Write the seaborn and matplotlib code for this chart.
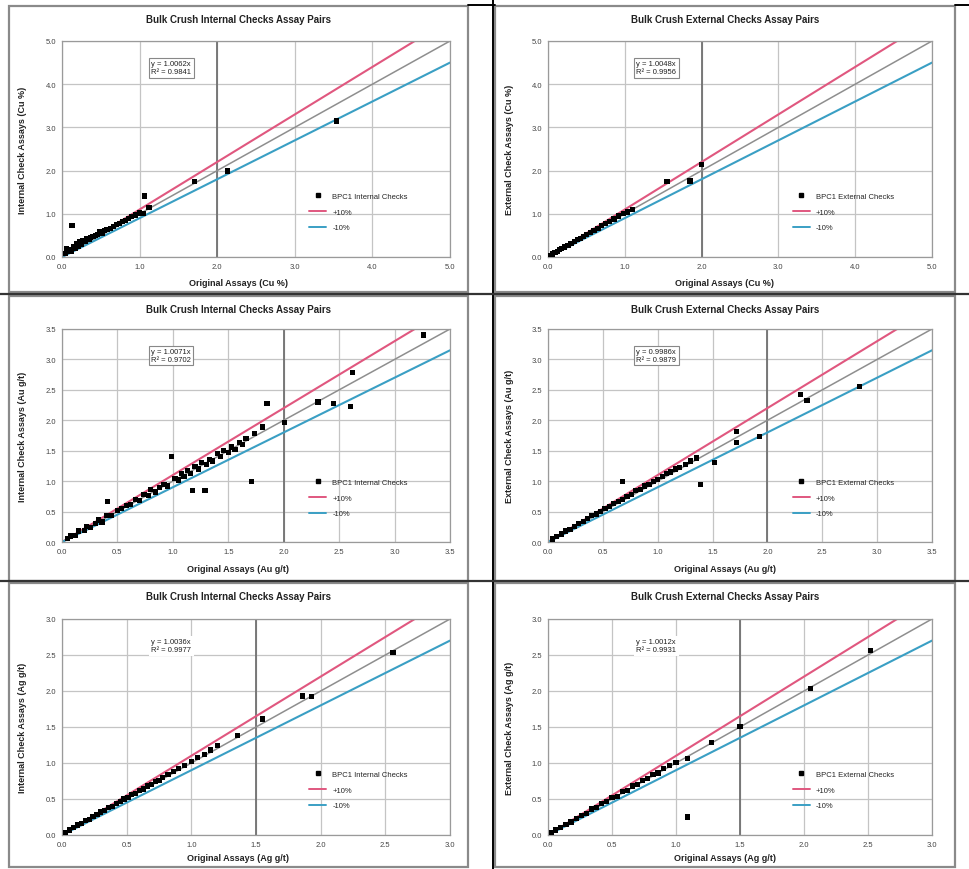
import matplotlib
matplotlib.use('Agg')
import matplotlib.pyplot as plt
import matplotlib.ticker as ticker
from matplotlib.patches import Rectangle
from matplotlib.lines import Line2D
import numpy as np
import pandas as pd
import seaborn as sns

# ---- data (approximate) ----
cu_int_orig = [0.04, 0.06, 0.08, 0.1, 0.12, 0.13, 0.15, 0.17, 0.19, 0.21, 0.23, 0.25, 0.27, 0.3, 0.32,
               0.35, 0.37, 0.4, 0.43, 0.46, 0.49, 0.52, 0.55, 0.58, 0.62, 0.66, 0.7, 0.74, 0.78, 0.82,
               0.86, 0.9, 0.95, 1.0, 1.05, 1.06, 1.12, 1.71, 2.13, 3.54]
cu_int_check = [0.08, 0.2, 0.12, 0.18, 0.14, 0.72, 0.25, 0.2, 0.3, 0.24, 0.36, 0.3, 0.38, 0.35, 0.42,
                0.4, 0.46, 0.48, 0.5, 0.52, 0.58, 0.55, 0.62, 0.64, 0.66, 0.7, 0.75, 0.78, 0.82, 0.84,
                0.9, 0.93, 0.97, 1.02, 1.0, 1.41, 1.14, 1.74, 1.99, 3.15]

cu_ext_orig = [0.03, 0.06, 0.09, 0.12, 0.15, 0.18, 0.22, 0.26, 0.3, 0.34, 0.38, 0.42, 0.46, 0.5,
               0.55, 0.6, 0.65, 0.7, 0.75, 0.8, 0.86, 0.92, 0.98, 1.04, 1.1, 1.55, 1.85, 2.0]
cu_ext_check = [0.04, 0.07, 0.1, 0.13, 0.17, 0.2, 0.23, 0.27, 0.32, 0.35, 0.4, 0.43, 0.48, 0.52,
                0.56, 0.62, 0.66, 0.72, 0.77, 0.82, 0.88, 0.95, 1.0, 1.04, 1.1, 1.74, 1.76, 2.15]

au_int_orig = [0.05, 0.08, 0.12, 0.15, 0.2, 0.22, 0.26, 0.3, 0.33, 0.36, 0.4, 0.41, 0.45, 0.5, 0.54,
               0.58, 0.62, 0.66, 0.7, 0.74, 0.78, 0.8, 0.84, 0.88, 0.92, 0.95, 0.99, 1.02, 1.05, 1.08,
               1.1, 1.13, 1.16, 1.18, 1.2, 1.23, 1.26, 1.29, 1.3, 1.33, 1.36, 1.4, 1.43, 1.46, 1.5,
               1.53, 1.56, 1.6, 1.63, 1.66, 1.71, 1.74, 1.81, 1.85, 2.01, 2.31, 2.45, 2.6, 2.62, 3.26]
au_int_check = [0.06, 0.1, 0.11, 0.18, 0.19, 0.25, 0.24, 0.31, 0.36, 0.33, 0.43, 0.67, 0.44, 0.52, 0.55,
                0.6, 0.61, 0.7, 0.68, 0.78, 0.76, 0.86, 0.82, 0.9, 0.95, 0.92, 1.41, 1.05, 1.02, 1.12,
                1.08, 1.17, 1.12, 0.84, 1.24, 1.2, 1.3, 0.84, 1.28, 1.36, 1.33, 1.45, 1.4, 1.5, 1.47,
                1.56, 1.52, 1.64, 1.6, 1.7, 0.99, 1.78, 1.89, 2.27, 1.97, 2.3, 2.27, 2.22, 2.79, 3.4]

au_ext_orig = [0.04, 0.08, 0.12, 0.16, 0.2, 0.24, 0.28, 0.32, 0.36, 0.4, 0.44, 0.48, 0.52, 0.56,
               0.6, 0.64, 0.68, 0.68, 0.72, 0.76, 0.8, 0.84, 0.88, 0.92, 0.96, 1.0, 1.04, 1.08, 1.12,
               1.16, 1.2, 1.25, 1.3, 1.35, 1.39, 1.52, 1.72, 1.72, 1.93, 2.3, 2.36, 2.84]
au_ext_check = [0.05, 0.09, 0.13, 0.18, 0.21, 0.26, 0.3, 0.34, 0.38, 0.43, 0.46, 0.5, 0.55, 0.58,
                0.63, 0.66, 0.7, 1.0, 0.75, 0.78, 0.84, 0.86, 0.92, 0.95, 1.0, 1.03, 1.08, 1.12, 1.15,
                1.2, 1.22, 1.28, 1.33, 1.38, 0.95, 1.31, 1.81, 1.64, 1.74, 2.43, 2.32, 2.56]

ag_int_orig = [0.03, 0.06, 0.09, 0.12, 0.15, 0.18, 0.21, 0.24, 0.27, 0.3, 0.33, 0.36, 0.39, 0.42,
               0.45, 0.48, 0.51, 0.54, 0.57, 0.6, 0.63, 0.66, 0.69, 0.72, 0.75, 0.78, 0.82, 0.86,
               0.9, 0.95, 1.0, 1.05, 1.1, 1.15, 1.2, 1.36, 1.55, 1.86, 1.93, 2.56]
ag_int_check = [0.04, 0.07, 0.1, 0.14, 0.16, 0.2, 0.22, 0.26, 0.28, 0.32, 0.34, 0.38, 0.4, 0.44,
                0.46, 0.5, 0.52, 0.56, 0.58, 0.62, 0.64, 0.68, 0.7, 0.74, 0.76, 0.8, 0.84, 0.88,
                0.92, 0.97, 1.02, 1.08, 1.12, 1.18, 1.24, 1.38, 1.61, 1.93, 1.92, 2.54]

ag_ext_orig = [0.03, 0.06, 0.1, 0.14, 0.18, 0.22, 0.26, 0.3, 0.34, 0.38, 0.42, 0.46, 0.5, 0.54,
               0.58, 0.62, 0.66, 0.7, 0.74, 0.78, 0.82, 0.86, 0.9, 0.95, 1.0, 1.09, 1.09, 1.28,
               1.5, 2.05, 2.52]
ag_ext_check = [0.04, 0.07, 0.1, 0.15, 0.18, 0.23, 0.27, 0.3, 0.36, 0.38, 0.44, 0.46, 0.52, 0.54,
                0.6, 0.62, 0.68, 0.7, 0.76, 0.78, 0.84, 0.86, 0.92, 0.96, 1.01, 1.06, 0.25, 1.29,
                1.51, 2.03, 2.56]

titles = ['Bulk Crush Internal Checks Assay Pairs', 'Bulk Crush External Checks Assay Pairs']
x_labels = ['Original Assays (Cu %)', 'Original Assays (Au g/t)', 'Original Assays (Ag g/t)']
y_labels = [['Internal Check Assays (Cu %)', 'External Check Assays (Cu %)'],
            ['Internal Check Assays (Au g/t)', 'External Check Assays (Au g/t)'],
            ['Internal Check Assays (Ag g/t)', 'External Check Assays (Ag g/t)']]
legend_labels = [['BPC1 Internal Checks', '+10%', '-10%'], ['BPC1 External Checks', '+10%', '-10%']]
fit_text = [['y = 1.0062x\nR² = 0.9841', 'y = 1.0048x\nR² = 0.9956'],
            ['y = 1.0071x\nR² = 0.9702', 'y = 0.9986x\nR² = 0.9879'],
            ['y = 1.0036x\nR² = 0.9977', 'y = 1.0012x\nR² = 0.9931']]
axis_max = [5.0, 3.5, 3.0]
tick_step = [1.0, 0.5, 0.5]
cutoff = [2.0, 2.0, 1.5]

panel_data = [[(cu_int_orig, cu_int_check), (cu_ext_orig, cu_ext_check)],
              [(au_int_orig, au_int_check), (au_ext_orig, au_ext_check)],
              [(ag_int_orig, ag_int_check), (ag_ext_orig, ag_ext_check)]]

# ---- layout in pixels ----
W, H = 970, 870
chart_x = [(9, 468), (495, 955)]
plot_x = [(62, 450), (548, 932)]
chart_y = [(7, 293), (297, 582), (584, 868)]
plot_y = [(42, 258), (330, 543), (620, 836)]
title_y = [20, 310, 597]
xlab_y = [284, 570, 859]

plus_color = '#e0577f'
minus_color = '#3a9fc4'
one_color = '#8e8e8e'

sns.set_style('white')
plt.rcParams['font.family'] = ['Liberation Sans', 'DejaVu Sans']

fig = plt.figure(figsize=(W / 100, H / 100), dpi=100)


def fx(px):
    return px / W


def fy(py):
    return 1 - py / H


for r in range(3):
    for c in range(2):
        cx0, cx1 = chart_x[c]
        cy0, cy1 = chart_y[r]
        fig.patches.append(Rectangle((fx(cx0), fy(cy1)), fx(cx1 - cx0), (cy1 - cy0) / H,
                                     transform=fig.transFigure, fill=False,
                                     edgecolor='#8a8a8a', lw=1.6, zorder=0))
        px0, px1 = plot_x[c]
        py0, py1 = plot_y[r]
        ax = fig.add_axes([fx(px0), fy(py1), fx(px1 - px0), (py1 - py0) / H])
        orig, check = panel_data[r][c]
        df = pd.DataFrame({'orig': orig, 'check': check})
        m = axis_max[r]
        line_x = np.array([0, m])
        ax.plot(line_x, line_x * 1.1, color=plus_color, lw=1.5, zorder=2)
        ax.plot(line_x, line_x, color=one_color, lw=1.1, zorder=2)
        ax.plot(line_x, line_x * 0.9, color=minus_color, lw=1.5, zorder=2)
        sns.scatterplot(data=df, x='orig', y='check', ax=ax, marker='s', s=14,
                        color='black', edgecolor='none', zorder=3, legend=False)
        ax.axvline(cutoff[r], color='#707070', lw=1.3, zorder=1)
        ax.set_xlim(0, m)
        ax.set_ylim(0, m)
        ticks = np.arange(0, m + 1e-9, tick_step[r])
        ax.set_xticks(ticks)
        ax.set_yticks(ticks)
        ax.xaxis.set_major_formatter(ticker.FormatStrFormatter('%.1f'))
        ax.yaxis.set_major_formatter(ticker.FormatStrFormatter('%.1f'))
        ax.tick_params(labelsize=5.5, length=2, colors='#444444', pad=2)
        ax.grid(True, color='#c4c4c4', lw=0.9)
        for s in ax.spines.values():
            s.set_color('#9a9a9a')
            s.set_linewidth(0.9)
        ax.set_xlabel('')
        ax.set_ylabel('')
        ax.text(0.23, 0.91, fit_text[r][c], transform=ax.transAxes, fontsize=5.5,
                va='top', ha='left', color='#222222', linespacing=1.2,
                bbox=dict(boxstyle='square,pad=0.3', fc='white',
                          ec='#888888' if r < 2 else 'none', lw=0.8))
        handles = [Line2D([], [], marker='s', ls='none', color='black', markersize=3),
                   Line2D([], [], color=plus_color, lw=1.4),
                   Line2D([], [], color=minus_color, lw=1.4)]
        ax.legend(handles, legend_labels[c], loc='upper left', bbox_to_anchor=(0.62, 0.33),
                  frameon=False, fontsize=5.5, handlelength=2.2, labelspacing=1.1)
        mid_x = (cx0 + cx1) / 2
        fig.text(fx(mid_x), fy(title_y[r]), titles[c], ha='center', va='center',
                 fontsize=7, fontweight='bold', color='#222222')
        fig.text(fx(mid_x), fy(xlab_y[r]), x_labels[r], ha='center', va='center',
                 fontsize=6.5, fontweight='bold', color='#222222')
        fig.text(fx(cx0 + 14), fy((py0 + py1) / 2), y_labels[r][c], ha='center', va='center',
                 rotation=90, fontsize=6.5, fontweight='bold', color='#222222')

# table cell borders
fig.add_artist(Line2D([fx(493), fx(493)], [0, 1], color='black', lw=1.4, transform=fig.transFigure))
for yy in (295, 582):
    fig.add_artist(Line2D([0, 1], [fy(yy), fy(yy)], color='#333333', lw=1.6, transform=fig.transFigure))
fig.add_artist(Line2D([fx(468), fx(495)], [fy(6), fy(6)], color='black', lw=1.4, transform=fig.transFigure))
fig.add_artist(Line2D([fx(955), 1], [fy(6), fy(6)], color='black', lw=1.4, transform=fig.transFigure))

fig.savefig('out.png', dpi=100, facecolor='white')
plt.close()
